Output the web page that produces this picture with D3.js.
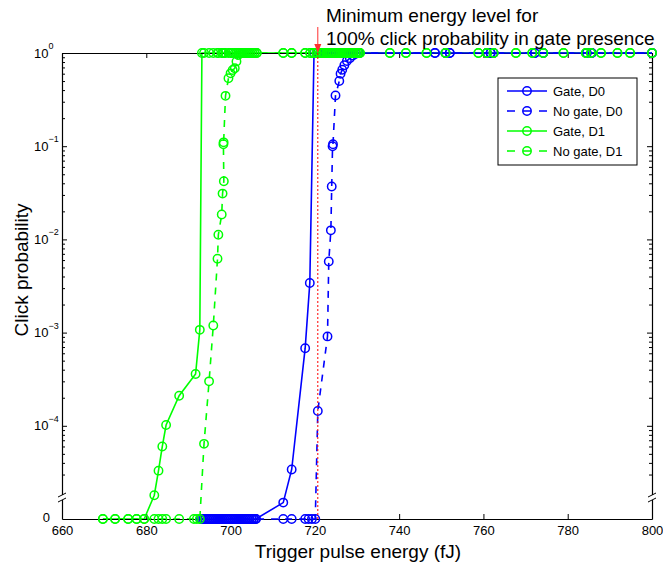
<!DOCTYPE html>
<html>
<head>
<meta charset="utf-8">
<script src="https://cdn.jsdelivr.net/npm/d3@7"></script>
<style>
	body { margin: 0; background: #fff; }
	svg text { font-family: "Liberation Sans", Arial, sans-serif; fill: #000; }
</style>
</head>
<body>
<svg id="chart" width="663" height="564"></svg>
<script>
// Axis settings
const xTicks = [660, 680, 700, 720, 740, 760, 780, 800];
const yDecades = [1, 1e-1, 1e-2, 1e-3, 1e-4];
const yFloor = 1e-5;      // zero clicks are drawn at this level
const breakLevel = 1.7e-5; // where the axis break sits
const minEnergy = 720.7;   // red marker line

// [energy (fJ), click probability]
const gateD0 = [
	[693,0],[693.5,0],[694,0],[694.5,0],[695,0],[695.5,0],[696,0],[696.5,0],[697,0],[697.5,0],
	[698,0],[698.5,0],[699,0],[699.5,0],[700,0],[700.5,0],[701,0],[701.5,0],[702,0],[702.5,0],
	[703,0],[703.5,0],[704,0],[704.5,0],[705,0],[705.5,0],[706,0],
	[712.5,1.5e-5],[714.5,3.4e-5],[717.7,6.8e-4],[718.8,3.4e-3],[719.8,1],
	[720.7,1],[723,1],[723.3,1],[723.8,1],[724,1],[724.2,1],[724.9,1],[725.8,1],[726.1,1],
	[726.5,1],[727,1],[727.6,1],[728.3,1],[729,1],[729.7,1],[730.5,1],
	[748.5,1],[751,1],[752,1],[760.8,1],[761.7,1],[762.4,1],[772.2,1],[774.2,1],[784.5,1],[785.7,1],[800,1]
];
const noGateD0 = [
	[693,0],[693.5,0],[694,0],[694.5,0],[695,0],[695.5,0],[696,0],[696.5,0],[697,0],[697.5,0],
	[698,0],[698.5,0],[699,0],[699.5,0],[700,0],[700.5,0],[701,0],[701.5,0],[702,0],[702.5,0],
	[703,0],[703.5,0],[704,0],[704.5,0],[705,0],[705.5,0],[706,0],
	[712.5,0],[714.5,0],[717.7,0],[718.5,0],[719.3,0],[720.1,0],
	[720.7,1.44e-4],[723,9.1e-4],[723.3,5.8e-3],[723.8,0.0125],[724,0.037],[724.2,0.1],[724.3,0.105],
	[724.9,0.35],[725.8,0.5],[726.1,0.6],[726.5,0.66],[727,0.74],[727.6,0.82],[728.3,0.88],
	[729,0.94],[729.7,0.98],[730.5,1],
	[748.5,1],[751,1],[752,1],[760.8,1],[761.7,1],[762.4,1],[772.2,1],[774.2,1],[784.5,1],[785.7,1],[800,1]
];
const gateD1 = [
	[669.7,0],[672.6,0],[675.7,0],[677.7,0],[679.5,0],
	[681.9,1.8e-5],[682.9,3.3e-5],[683.8,6.0e-5],[684.7,1.02e-4],[687.8,2.1e-4],[691.7,3.6e-4],[692.7,1.07e-3],
	[693.2,1],[693.7,1],[694.9,1],[695.9,1],[696.9,1],[697.1,1],[697.9,1],[698.1,1],[698.3,1],[698.4,1],
	[698.8,1],[699.5,1],[700,1],[700.5,1],[701,1],[701.4,1],[701.8,1],[702.2,1],[702.7,1],[703.2,1],
	[703.7,1],[704.2,1],[704.7,1],[705.2,1],[705.7,1],[706.2,1],
	[712.5,1],[714.5,1],[717.7,1],[718.9,1],[719.7,1],[720.4,1],
	[721.2,1],[721.7,1],[722.2,1],[722.7,1],[723.2,1],[723.7,1],[724.2,1],[724.7,1],[725.2,1],[725.7,1],
	[726.2,1],[726.7,1],[727.2,1],[727.7,1],[728.2,1],[728.7,1],[729.2,1],[729.7,1],[730.2,1],[730.7,1],
	[737.8,1],[741.6,1],[746.5,1],[751,1],[758.8,1],[760.8,1],[762.4,1],[767.7,1],[771.6,1],[774.2,1],
	[779,1],[784.3,1],[785.5,1],[787.9,1],[791.8,1],[794.8,1],[800,1]
];
const noGateD1 = [
	[669.7,0],[672.6,0],[675.7,0],[677.7,0],[679.5,0],[681.9,0],[682.9,0],[683.8,0],[684.7,0],
	[687.8,0],[691.3,0],[692,0],[692.7,0],
	[693.7,6.4e-5],[694.9,3.0e-4],[695.9,1.19e-3],[696.9,6.2e-3],[697.1,0.0112],[697.9,0.0185],
	[698.1,0.031],[698.4,0.042],[698.3,0.105],[698.35,0.11],[698.8,0.347],[699.5,0.535],[700,0.605],
	[700.5,0.656],[701,0.685],[701.4,0.81],[701.8,0.95],
	[702.2,1],[702.7,1],[703.2,1],[703.7,1],[704.2,1],[704.7,1],[705.2,1],[705.7,1],[706.2,1],
	[712.5,1],[714.5,1],[717.7,1],[718.9,1],[719.7,1],[720.4,1],
	[721.2,1],[721.7,1],[722.2,1],[722.7,1],[723.2,1],[723.7,1],[724.2,1],[724.7,1],[725.2,1],[725.7,1],
	[726.2,1],[726.7,1],[727.2,1],[727.7,1],[728.2,1],[728.7,1],[729.2,1],[729.7,1],[730.2,1],[730.7,1],
	[737.8,1],[741.6,1],[746.5,1],[751,1],[758.8,1],[760.8,1],[762.4,1],[767.7,1],[771.6,1],[774.2,1],
	[779,1],[784.3,1],[785.5,1],[787.9,1],[791.8,1],[794.8,1],[800,1]
];

const seriesNames = ['Gate, D0', 'No gate, D0', 'Gate, D1', 'No gate, D1'];
const seriesColors = ['#0000ff', '#0000ff', '#00ff00', '#00ff00'];
const seriesDashed = [false, true, false, true];
const seriesData = [gateD0, noGateD0, gateD1, noGateD1];

const series = seriesNames.map((name, i) => ({
	'name': name,
	'color': seriesColors[i],
	'dashed': seriesDashed[i],
	'data': seriesData[i]
}));

const markerRadius = 4.2;

const svg = d3.select('#chart');

const x = d3.scaleLinear().domain([660, 800]).range([62, 652]);
const y = d3.scaleLog().domain([yFloor, 1]).range([519, 53]);
const yv = p => y(Math.max(p, yFloor));

const line = d3.line()
	.x(d => x(d[0]))
	.y(d => yv(d[1]));

const drawLine = function(s) {
	svg.append('path')
		.datum(s.data)
		.attr('d', line)
		.attr('fill', 'none')
		.attr('stroke', s.color)
		.attr('stroke-width', 1.6)
		.attr('stroke-dasharray', s.dashed ? '7,7' : null);
};

// D1 lines sit under the axes box, D0 lines above it (as in the original)
series.slice(2).forEach(drawLine);

// Axes box
const styleAxis = function(g) {
	g.attr('font-family', null).attr('font-size', null);
	g.select('.domain').attr('stroke', '#000').attr('stroke-width', 1.2);
	g.selectAll('.tick line').attr('stroke', '#000').attr('stroke-width', 1);
	g.selectAll('.tick text').style('font-size', '13px');
};

svg.append('g')
	.attr('transform', 'translate(0,' + y.range()[0] + ')')
	.call(d3.axisBottom(x).tickValues(xTicks).tickSize(-5).tickSizeOuter(0).tickPadding(7).tickFormat(d3.format('d')))
	.call(styleAxis);

svg.append('g')
	.attr('transform', 'translate(0,' + y.range()[1] + ')')
	.call(d3.axisTop(x).tickValues(xTicks).tickSize(-5).tickSizeOuter(0).tickFormat(''))
	.call(styleAxis);

const minorTicks = [];
for (let k = -5; k < 0; k++) {
	for (let m = 2; m <= 9; m++) {
		const v = m * Math.pow(10, k);
		if (v > 2.2e-5) minorTicks.push(v);
	}
}

[[d3.axisLeft, x.range()[0]], [d3.axisRight, x.range()[1]]].forEach(([axisFn, xPos]) => {
	svg.append('g')
		.attr('transform', 'translate(' + xPos + ',0)')
		.call(axisFn(y).tickValues(yDecades).tickSize(-5).tickSizeOuter(0).tickFormat(''))
		.call(styleAxis);
	svg.append('g')
		.attr('transform', 'translate(' + xPos + ',0)')
		.call(axisFn(y).tickValues(minorTicks).tickSize(-3).tickSizeOuter(0).tickFormat(''))
		.call(styleAxis)
		.call(g => g.select('.domain').remove());

	// Axis break
	const yb = y(breakLevel);
	svg.append('rect')
		.attr('x', xPos - 2).attr('y', yb - 2.5)
		.attr('width', 4).attr('height', 5)
		.attr('fill', '#fff');
	[-2.5, 2.5].forEach(off => {
		svg.append('line')
			.attr('x1', xPos - 4).attr('y1', yb + off + 2)
			.attr('x2', xPos + 4).attr('y2', yb + off - 2)
			.attr('stroke', '#000').attr('stroke-width', 1);
	});
});

// Y tick labels
yDecades.forEach(p => {
	const k = Math.round(Math.log10(p));
	const t = svg.append('text')
		.attr('x', 34)
		.attr('y', y(p) + 4.5)
		.style('font-size', '13px')
		.text('10');
	t.append('tspan')
		.attr('dy', -8.5)
		.style('font-size', '9px')
		.text(k === 0 ? '0' : '\u2212' + (-k));
});
svg.append('text')
	.attr('x', 50)
	.attr('y', y(yFloor) + 3)
	.attr('text-anchor', 'end')
	.style('font-size', '13px')
	.text('0');

// D0 lines on top of the box
series.slice(0, 2).forEach(drawLine);

// Markers
series.forEach(s => {
	svg.append('g').selectAll('circle')
		.data(s.data)
	.join('circle')
		.attr('cx', d => x(d[0]))
		.attr('cy', d => yv(d[1]))
		.attr('r', markerRadius)
		.attr('fill', 'none')
		.attr('stroke', s.color)
		.attr('stroke-width', 1.5);
});

// Minimum energy marker
const xr = x(minEnergy);
svg.append('line')
	.attr('x1', xr).attr('x2', xr)
	.attr('y1', y.range()[1]).attr('y2', y.range()[0])
	.attr('stroke', '#ff0000')
	.attr('stroke-width', 1)
	.attr('stroke-dasharray', '2,2');

svg.append('line')
	.attr('x1', xr).attr('x2', xr)
	.attr('y1', 27).attr('y2', 46)
	.attr('stroke', '#ff3030')
	.attr('stroke-width', 1);
svg.append('path')
	.attr('d', ['M', xr - 3.5, 44, 'L', xr + 3.5, 44, 'L', xr, 53, 'z'].join(' '))
	.attr('fill', '#ff3030');

svg.append('text')
	.attr('x', 326).attr('y', 22)
	.style('font-size', '19px')
	.text('Minimum energy level for');
svg.append('text')
	.attr('x', 326).attr('y', 45)
	.style('font-size', '19px')
	.text('100% click probability in gate presence');

// Legend
const legend = svg.append('g');
legend.append('rect')
	.attr('x', 498).attr('y', 78)
	.attr('width', 139).attr('height', 87)
	.attr('fill', '#fff')
	.attr('stroke', '#000')
	.attr('stroke-width', 1);

series.forEach((s, i) => {
	const ly = 91 + i * 20;
	legend.append('line')
		.attr('x1', 507).attr('x2', 547)
		.attr('y1', ly).attr('y2', ly)
		.attr('stroke', s.color)
		.attr('stroke-width', 1.6)
		.attr('stroke-dasharray', s.dashed ? '8,8' : null);
	legend.append('circle')
		.attr('cx', 527).attr('cy', ly)
		.attr('r', markerRadius)
		.attr('fill', 'none')
		.attr('stroke', s.color)
		.attr('stroke-width', 1.5);
	legend.append('text')
		.attr('x', 553).attr('y', ly)
		.attr('dy', '0.35em')
		.style('font-size', '13px')
		.text(s.name);
});

// Axis titles
svg.append('text')
	.attr('x', 358).attr('y', 558)
	.attr('text-anchor', 'middle')
	.style('font-size', '19px')
	.text('Trigger pulse energy (fJ)');

svg.append('text')
	.attr('transform', 'translate(28,270) rotate(-90)')
	.attr('text-anchor', 'middle')
	.style('font-size', '19px')
	.text('Click probability');
</script>
</body>
</html>
